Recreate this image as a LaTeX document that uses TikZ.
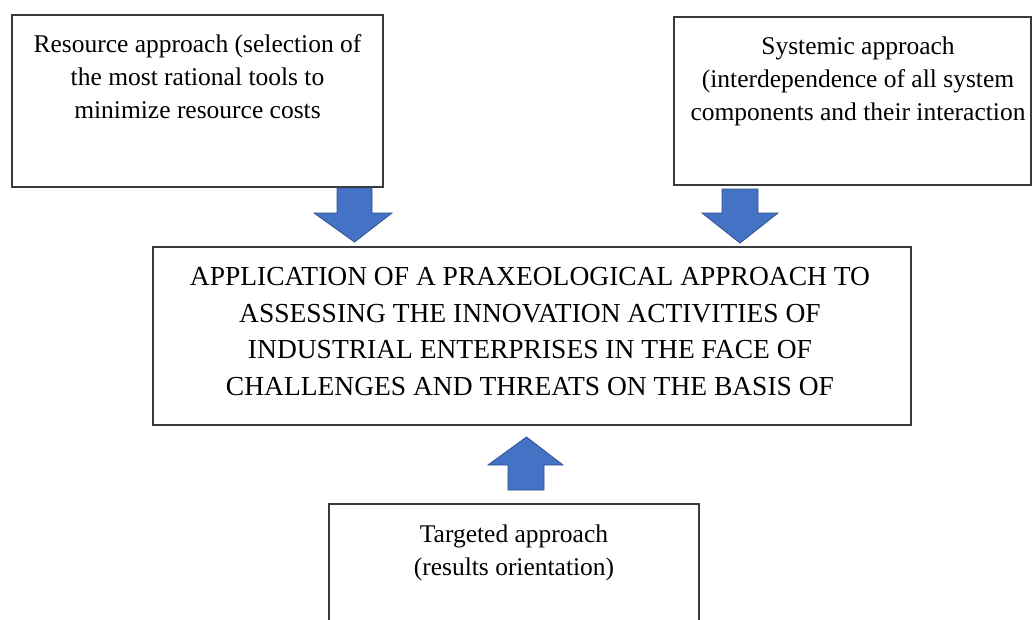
\documentclass[tikz,border=0pt]{standalone}
\usepackage{fontspec}
\setmainfont{Liberation Serif}
\definecolor{arrowfill}{HTML}{4472C4}
\definecolor{arrowline}{HTML}{2F528F}
\definecolor{boxline}{HTML}{3A3A3A}
\begin{document}
\begin{tikzpicture}[x=1pt,y=-1pt,
  boxstyle/.style={draw=boxline,line width=1.3pt,fill=white},
  small/.style={inner sep=0pt,anchor=base,font=\fontsize{25.5}{33}\selectfont},
  big/.style={inner sep=0pt,anchor=base,font=\fontsize{27.5}{36.7}\selectfont},
  blockarrow/.style={fill=arrowfill,draw=arrowline,line width=0.8pt,line join=miter}]
\useasboundingbox (0,0) rectangle (1033,619);
\clip (0,0) rectangle (1033,619);
\fill[white] (0,0) rectangle (1033,619);
% boxes
\draw[boxstyle] (12,15) rectangle (383,187);
\draw[boxstyle] (674,17) rectangle (1031,185);
\draw[boxstyle] (153,247) rectangle (911,425);
\draw[boxstyle] (329,504) rectangle (699,640);
% texts
\node[small] (r1) at (197.5,52) {Resource approach (selection of};
\node[small] (r2) at (197.5,85) {the most rational tools to};
\node[small] (r3) at (197.5,118) {minimize resource costs};
\node[small] (s1) at (858,54) {Systemic approach};
\node[small] (s2) at (858,87) {(interdependence of all system};
\node[small] (s3) at (858,120) {components and their interaction};
\node[big] (m1) at (530,285) {APPLICATION OF A PRAXEOLOGICAL APPROACH TO};
\node[big] (m2) at (530,322) {ASSESSING THE INNOVATION ACTIVITIES OF};
\node[big] (m3) at (530,358.5) {INDUSTRIAL ENTERPRISES IN THE FACE OF};
\node[big] (m4) at (530,395) {CHALLENGES AND THREATS ON THE BASIS OF};
\node[small] (t1) at (514,542) {Targeted approach};
\node[small] (t2) at (514,575) {(results orientation)};
% block arrows
\draw[blockarrow] (337,188) -- (372,188) -- (372,213) -- (392,213) -- (354.5,242) -- (314,213) -- (337,213) -- cycle;
\draw[blockarrow] (722,189) -- (758,189) -- (758,213) -- (778,213) -- (740,243) -- (702,213) -- (722,213) -- cycle;
\draw[blockarrow] (508,490) -- (544,490) -- (544,465) -- (563,465) -- (526.5,437) -- (488,465) -- (508,465) -- cycle;
\end{tikzpicture}
\end{document}
